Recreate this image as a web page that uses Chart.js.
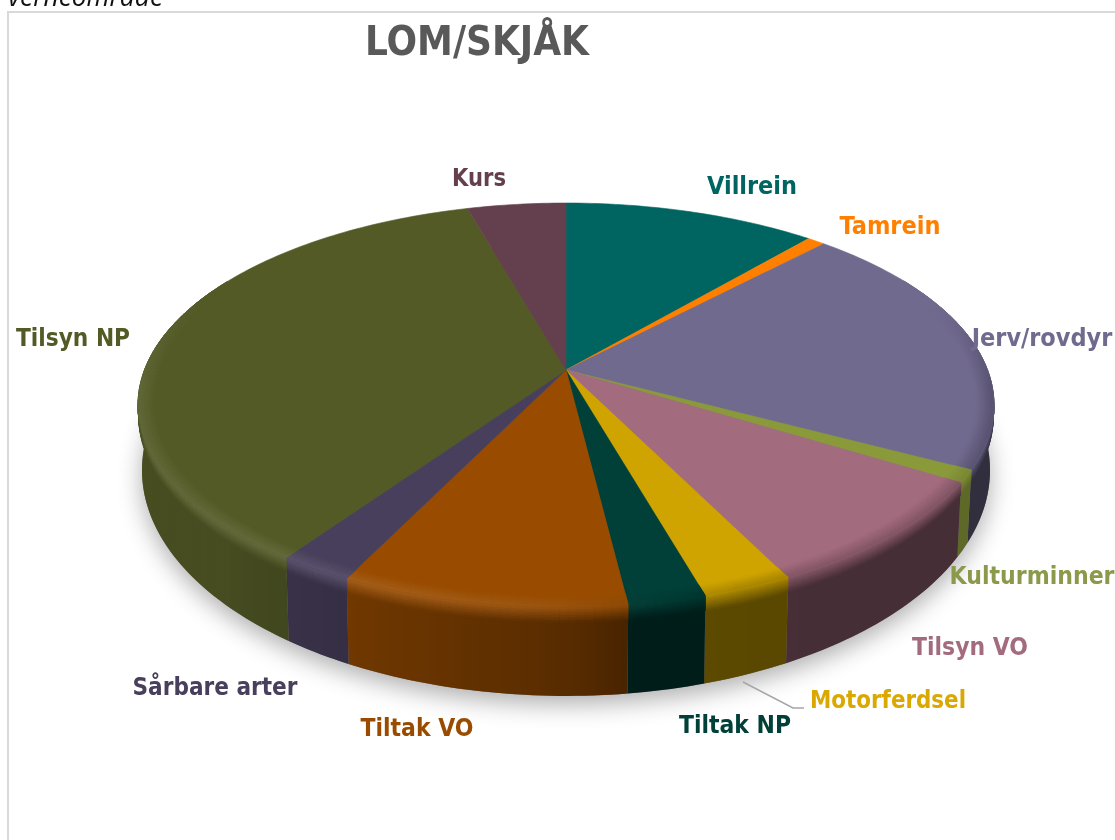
<!DOCTYPE html>
<html>
<head>
<meta charset="utf-8">
<script src="https://cdn.jsdelivr.net/npm/chart.js@4"></script>
<style>
html,body{margin:0;padding:0;background:#fff;overflow:hidden}
canvas{display:block}
</style>
</head>
<body>
<canvas id="c" width="1115" height="840"></canvas>
<script>
const chartTitle = "LOM/SKJÅK";
const headerText = "verneområde";
const categories = ["Villrein","Tamrein","Jerv/rovdyr","Kulturminner","Tilsyn VO","Motorferdsel","Tiltak NP","Tiltak VO","Sårbare arter","Tilsyn NP","Kurs"];
const values = [11.3,0.8,20.7,1.0,8.9,2.9,2.5,9.2,2.4,36.0,4.4];
const sliceColors = ["#006560","#FF8000","#716A8F","#8A9A3B","#A36B7E","#CFA400","#004038","#994C00","#483F5C","#535A26","#643F4D"];
const labelColors = ["#006560","#FF8000","#716A8F","#8A9A4A","#A36B7E","#DAA800","#004038","#994C00","#483F5C","#535A26","#643F4D"];
// layout of the labels: centre x, centre y, fitted width
const labelCentres = [[752,187],[890,227],[1042,339],[1032,577],[970,648],[888,701],[735,726],[417,729],[215,688],[73,339],[479,179]];
const labelWidths = [90,102,145,165,116,156,112,113,165,114,54];
const labelFont = "bold 25px 'DejaVu Sans Condensed','DejaVu Sans'";

// projection of the pie disc
const K=0.1733;
const TOP={cx:566,cy:370,a:421.5,s:195.9};
const BOT={cx:566,cy:431,a:417.6,s:219};
function proj(P,th,r){const u=r*Math.sin(th),v=-r*Math.cos(th),d=1-K*v;return [P.cx+P.a*u/d,P.cy+P.s*v/d];}
function rgb(h){return [1,3,5].map(i=>parseInt(h.substr(i,2),16));}
function css(c){return `rgb(${c.map(x=>Math.round(x)).join(',')})`;}
function mix(a,b,t){return a.map((x,i)=>x+(b[i]-x)*t);}
function lerpPt(a,b,t){return [a[0]+(b[0]-a[0])*t,a[1]+(b[1]-a[1])*t];}
function interp(tab,x){if(x<=tab[0][0])return tab[0][1];for(let i=1;i<tab.length;i++){if(x<=tab[i][0]){const t=(x-tab[i-1][0])/(tab[i][0]-tab[i-1][0]);return tab[i-1][1]+(tab[i][1]-tab[i-1][1])*t;}}return tab[tab.length-1][1];}
const sideTab=[[150,.43],[172,.46],[180,.58],[205,.73],[225,.84],[280,.86]];
const hiTab=[[165,0],[185,.08],[210,.10],[265,.08],[295,0]];
const softTab=[[70,0],[95,.4],[160,.35],[180,.1],[200,0]];
const sideOverride={3:.68};
function poly(ctx,pts,col,lw){ctx.beginPath();pts.forEach((p,i)=>i?ctx.lineTo(p[0],p[1]):ctx.moveTo(p[0],p[1]));ctx.closePath();ctx.fillStyle=col;ctx.strokeStyle=col;ctx.lineWidth=lw===undefined?.6:lw;ctx.fill();ctx.stroke();}

const pie3d={
  id:'pie3d',
  beforeDraw(chart){
    const ctx=chart.ctx;
    ctx.save();
    ctx.fillStyle='#fff';ctx.fillRect(0,0,1115,840);
    ctx.strokeStyle='#D9D9D9';ctx.lineWidth=2;
    ctx.beginPath();ctx.moveTo(8,860);ctx.lineTo(8,12);ctx.lineTo(1130,12);ctx.stroke();
    ctx.fillStyle='#111';ctx.font="italic 27px 'Open Sans'";ctx.textBaseline='alphabetic';ctx.textAlign='left';
    ctx.fillText(headerText,8,6,155);
    ctx.restore();
  },
  beforeDatasetsDraw(chart){
    const ctx=chart.ctx,arcs=chart.getDatasetMeta(0).data,STEP=Math.PI/180,BZ=.17,R=6;
    ctx.save();
    // soft shadow under the disc
    ctx.save();
    ctx.shadowColor='rgba(0,0,0,.32)';ctx.shadowBlur=24;ctx.shadowOffsetY=8;
    ctx.beginPath();
    for(let d=0;d<=360;d+=2){const p=proj(BOT,d*STEP,1);d?ctx.lineTo(p[0],p[1]):ctx.moveTo(p[0],p[1]);}
    ctx.closePath();ctx.fillStyle='#777';ctx.fill();
    ctx.restore();
    const geo=arcs.map((arc,i)=>{
      const a0=arc.startAngle+Math.PI/2,a1=arc.endAngle+Math.PI/2;
      return {a0,a1,n:Math.max(2,Math.ceil((a1-a0)/STEP)),base:rgb(sliceColors[i])};
    });
    const sideOf=(i,base,deg)=>mix([0,0,0],base,sideOverride[i]!==undefined?sideOverride[i]:interp(sideTab,deg));
    const crestOf=(i,base,deg)=>mix(mix(base,[255,255,255],interp(hiTab,deg)),sideOf(i,base,deg),interp(softTab,deg));
    // side wall and lower half of the bevel
    geo.forEach((g,i)=>{
      const {a0,a1,n,base}=g,top=[],bot=[],ths=[];
      for(let k=0;k<=n;k++){
        const t=a0+(a1-a0)*k/n,deg=t*180/Math.PI;
        if(deg<60||deg>300)continue;
        ths.push(t);top.push(proj(TOP,t,1));bot.push(proj(BOT,t,1));
      }
      if(ths.length<2)return;
      const xs=top.concat(bot).map(p=>p[0]),x0=Math.min(...xs),x1=Math.max(...xs);
      const gr=ctx.createLinearGradient(x0,0,x1,0);
      ths.forEach((t,j)=>{const off=((top[j][0]+bot[j][0])/2-x0)/(x1-x0);gr.addColorStop(Math.min(1,Math.max(0,off)),css(sideOf(i,base,t*180/Math.PI)));});
      ctx.beginPath();
      top.forEach((p,j)=>j?ctx.lineTo(p[0],p[1]):ctx.moveTo(p[0],p[1]));
      bot.slice().reverse().forEach(p=>ctx.lineTo(p[0],p[1]));
      ctx.closePath();ctx.fillStyle=gr;ctx.fill();
      for(let k=0;k<ths.length-1;k++){
        const t0=ths[k],t1=ths[k+1],deg=(t0+t1)/2*180/Math.PI;
        const side=sideOf(i,base,deg),crest=crestOf(i,base,deg);
        for(let j=R-1;j>=0;j--){
          const q0=j/R,q1=(j+1)/R;
          const pa=lerpPt(proj(TOP,t0,1),proj(BOT,t0,1),BZ*q0),pb=lerpPt(proj(TOP,t1,1),proj(BOT,t1,1),BZ*q0);
          const pc=lerpPt(proj(TOP,t1,1),proj(BOT,t1,1),BZ*q1),pd=lerpPt(proj(TOP,t0,1),proj(BOT,t0,1),BZ*q1);
          poly(ctx,[pa,pb,pc,pd],css(mix(crest,side,(q0+q1)/2)),.8);
        }
      }
    });
    // top face and upper half of the bevel
    geo.forEach((g,i)=>{
      const {a0,a1,n,base}=g,pts=[[TOP.cx,TOP.cy]];
      for(let k=0;k<=n;k++)pts.push(proj(TOP,a0+(a1-a0)*k/n,1));
      poly(ctx,pts,sliceColors[i]);
      for(let k=0;k<n;k++){
        const t0=a0+(a1-a0)*k/n,t1=a0+(a1-a0)*(k+1)/n,deg=(t0+t1)/2*180/Math.PI;
        if(deg<70||deg>295)continue;
        const crest=crestOf(i,base,deg);
        for(let j=0;j<R;j++){
          const q0=j/R,q1=(j+1)/R,r0=.96+.04*q0,r1=.96+.04*q1;
          poly(ctx,[proj(TOP,t0,r0),proj(TOP,t1,r0),proj(TOP,t1,r1),proj(TOP,t0,r1)],css(mix(base,crest,(q0+q1)/2)),.8);
        }
      }
    });
    ctx.restore();
    return false;
  },
  afterDraw(chart){
    const ctx=chart.ctx;
    ctx.save();
    ctx.strokeStyle='#A6A6A6';ctx.lineWidth=1.5;
    ctx.beginPath();ctx.moveTo(743,682);ctx.lineTo(793,708);ctx.lineTo(804,708);ctx.stroke();
    ctx.font=labelFont;ctx.textAlign='center';ctx.textBaseline='middle';
    categories.forEach((c,i)=>{ctx.fillStyle=labelColors[i];ctx.fillText(c,labelCentres[i][0],labelCentres[i][1],labelWidths[i]);});
    ctx.restore();
  }
};

new Chart(document.getElementById('c'),{
  type:'pie',
  data:{labels:categories,datasets:[{data:values,backgroundColor:sliceColors,borderWidth:0}]},
  options:{
    responsive:false,animation:false,
    layout:{padding:{left:365,top:21}},
    plugins:{
      legend:{display:false},tooltip:{enabled:false},
      title:{display:true,text:chartTitle,align:'start',color:'#595959',font:{family:"'DejaVu Sans Condensed','DejaVu Sans'",size:40,weight:'bold'},padding:{top:0,bottom:10}}
    }
  },
  plugins:[pie3d]
});
</script>
</body>
</html>
